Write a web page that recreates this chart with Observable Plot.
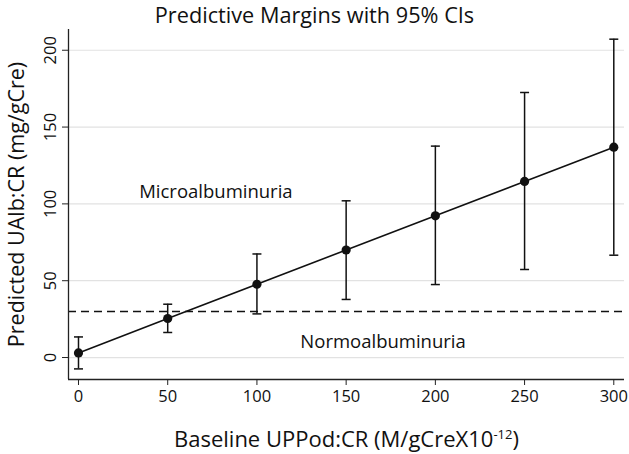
<!DOCTYPE html>
<html>
<head>
<meta charset="utf-8">
<script src="https://cdn.jsdelivr.net/npm/d3@7"></script>
<script src="https://cdn.jsdelivr.net/npm/@observablehq/plot@0.6"></script>
<style>
  html, body { margin: 0; padding: 0; background: #fff; }
  #title { width: 629px; height: 29px; line-height: 29px; text-align: center;
           font-family: "Open Sans", sans-serif; font-size: 21.7px; color: #111; }
  svg { display: block; }
</style>
</head>
<body>
<div id="title">Predictive Margins with 95% CIs</div>
<div id="chart"></div>
<script>
// Data
const xValues = [0, 50, 100, 150, 200, 250, 300];
const margins = [3.0, 25.4, 47.7, 70.0, 92.2, 114.6, 136.9];
const ciLow   = [-7.4, 16.3, 28.4, 37.8, 47.5, 57.3, 66.6];
const ciHigh  = [13.4, 34.7, 67.4, 102.0, 137.6, 172.5, 207.2];
const xTicks = [0, 50, 100, 150, 200, 250, 300];
const yTicks = [0, 50, 100, 150, 200];
const threshold = [30];
const annotLabels = ["Microalbuminuria", "Normoalbuminuria"];
const annotX = [77, 170.7];
const annotY = [107.7, 10.1];
const xDomain = [-5.6, 306];
const yDomain = [-14.3, 213.5];
const xLabel = "Baseline UPPod:CR (M/gCreX10-12)";
const yLabel = "Predicted UAlb:CR (mg/gCre)";

const data = xValues.map((x, i) => ({x, y: margins[i], lo: ciLow[i], hi: ciHigh[i]}));
const annots = annotLabels.map((t, i) => ({text: t, x: annotX[i], y: annotY[i]}));

const capSymbol = {
  draw(context, size) {
    const r = Math.sqrt(size / Math.PI);
    context.moveTo(-r, 0);
    context.lineTo(r, 0);
  }
};

const font = "'Open Sans', sans-serif";

const chart = Plot.plot({
  width: 629,
  height: 425,
  marginTop: 0,
  marginLeft: 68,
  marginRight: 5,
  marginBottom: 75,
  style: {fontFamily: font, background: "#fff", color: "#111"},
  x: {domain: xDomain, ticks: xTicks},
  y: {domain: yDomain, ticks: yTicks},
  marks: [
    Plot.gridY(yTicks, {stroke: "#e2e2e2", strokeOpacity: 1, strokeWidth: 1.2}),
    Plot.ruleY(threshold, {stroke: "#111", strokeWidth: 1.5, strokeDasharray: "8,5"}),
    Plot.ruleX(data, {x: "x", y1: "lo", y2: "hi", stroke: "#111", strokeWidth: 1.5}),
    Plot.dot(data, {x: "x", y: "lo", symbol: capSymbol, r: 4.5, stroke: "#111", strokeWidth: 1.5, fill: "none"}),
    Plot.dot(data, {x: "x", y: "hi", symbol: capSymbol, r: 4.5, stroke: "#111", strokeWidth: 1.5, fill: "none"}),
    Plot.line(data, {x: "x", y: "y", stroke: "#111", strokeWidth: 1.6}),
    Plot.dot(data, {x: "x", y: "y", r: 4.6, fill: "#111", stroke: "none"}),
    Plot.text(annots, {x: "x", y: "y", text: "text", fontSize: 18.5, fill: "#111", textAnchor: "middle", lineAnchor: "middle"}),
    Plot.ruleX([xDomain[0]], {stroke: "#222", strokeWidth: 1.3}),
    Plot.ruleY([yDomain[0]], {stroke: "#222", strokeWidth: 1.3}),
    Plot.axisX(xTicks, {tickSize: 6, tickPadding: 5, fontSize: 16.5, label: null, stroke: "#222"}),
    Plot.axisY(yTicks, {tickSize: 6, tickFormat: () => "", label: null, stroke: "#222"}),
    Plot.text(yTicks, {y: d => d, text: d => String(d), frameAnchor: "left", dx: -18, rotate: -90, fontSize: 16.5, fill: "#111", textAnchor: "middle", lineAnchor: "middle"}),
    Plot.text([yLabel], {frameAnchor: "left", dx: -51, dy: 0, rotate: -90, fontSize: 21.5, fill: "#111", textAnchor: "middle", lineAnchor: "middle"}),
    Plot.text([xLabel], {frameAnchor: "bottom", dy: 60, fontSize: 22, fill: "#111", textAnchor: "middle", lineAnchor: "middle"})
  ]
});

document.getElementById("chart").appendChild(chart);

// Render the exponent in the x label as a superscript
d3.select(chart).selectAll("text").filter(function() { return this.textContent === xLabel; }).each(function() {
  const t = d3.select(this);
  t.text(null);
  t.append("tspan").text("Baseline UPPod:CR (M/gCreX10");
  t.append("tspan").attr("font-size", "13").attr("dy", "-8").text("-12");
  t.append("tspan").attr("dy", "8").text(")");
});
</script>
</body>
</html>
